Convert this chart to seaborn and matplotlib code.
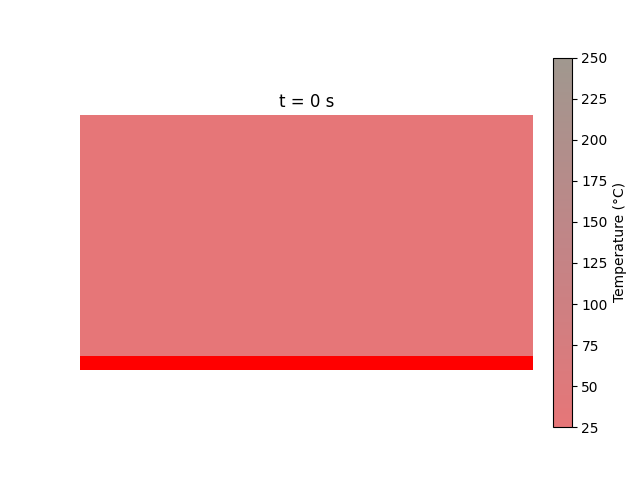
import numpy as np
import matplotlib
matplotlib.use("Agg")
import matplotlib.pyplot as plt
import seaborn as sns
from matplotlib.colors import LinearSegmentedColormap, ListedColormap

# plate grid and initial state
nx = 32
ny = 18
initial_temp = 25
heater_rows = [17]
t_now = 0
vmin, vmax = 25, 250
cbar_ticks = [25, 50, 75, 100, 125, 150, 175, 200, 225, 250]

field = np.full((ny, nx), float(initial_temp))
heater_mask = np.ones((ny, nx), dtype=bool)
heater_mask[heater_rows, :] = False

cmap = LinearSegmentedColormap.from_list(
    "plate", ["#e67678", "#c18587", "#a0988f"])
heater_cmap = ListedColormap(["#ff0000"])

fig, ax = plt.subplots(figsize=(6.4, 4.8), dpi=100)

sns.heatmap(field, mask=~heater_mask, cmap=cmap, vmin=vmin, vmax=vmax,
            square=True, ax=ax, xticklabels=False, yticklabels=False,
            cbar_kws={"fraction": 0.046, "pad": 0.04, "ticks": cbar_ticks})
sns.heatmap(field, mask=heater_mask, cmap=heater_cmap, cbar=False,
            square=True, ax=ax, xticklabels=False, yticklabels=False)

cbar = ax.collections[0].colorbar
cbar.outline.set_linewidth(0.8)
cbar.outline.set_edgecolor("black")
cbar.set_label("Temperature (°C)")

ax.set_title(f"t = {t_now} s")
ax.axis("off")

fig.savefig("out.png", dpi=100)
